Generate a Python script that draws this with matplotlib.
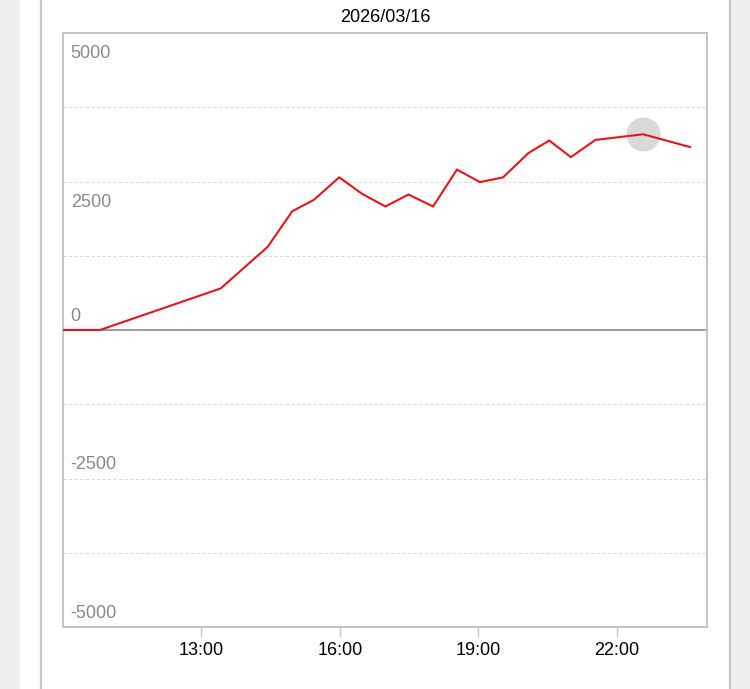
import matplotlib
matplotlib.use("Agg")
import matplotlib.pyplot as plt
from matplotlib.patches import Rectangle
from matplotlib.lines import Line2D

plt.rcParams['font.family'] = ['Liberation Sans', 'DejaVu Sans']

title = "2026/03/16"
times = ["10:00", "10:48", "13:25", "14:26", "14:58", "15:26", "15:59", "16:29",
         "16:59", "17:29", "18:01", "18:32", "19:02", "19:32", "20:05", "20:32",
         "21:00", "21:32", "22:34", "23:35"]
values = [0, 0, 700, 1400, 2000, 2190, 2570, 2290,
          2080, 2280, 2080, 2700, 2490, 2570, 2980, 3190,
          2910, 3200, 3295, 3080]
highlight_time = "22:34"
y_ticks = [5000, 2500, 0, -2500, -5000]
y_grid = [3750, 2500, 1250, -1250, -2500, -3750]
x_ticks = ["13:00", "16:00", "19:00", "22:00"]
x_start, x_end = "10:00", "23:57"


def h(t):
    hh, mm = t.split(":")
    return int(hh) + int(mm) / 60.0


xs = [h(t) for t in times]

W, H = 750, 689
fig = plt.figure(figsize=(W / 100, H / 100), dpi=100)
fig.patch.set_facecolor("white")

# page decorations
fig.add_artist(Rectangle((0, 0), 20 / W, 1, transform=fig.transFigure,
                         facecolor="#efefef", edgecolor="none", zorder=0))
fig.add_artist(Rectangle((731 / W, 0), 19 / W, 1, transform=fig.transFigure,
                         facecolor="#efefef", edgecolor="none", zorder=0))
fig.add_artist(Line2D([41 / W, 41 / W], [0, 1], transform=fig.transFigure,
                      color="#c8c8c8", lw=1.6))
fig.add_artist(Line2D([729.5 / W, 729.5 / W], [0, 1], transform=fig.transFigure,
                      color="#c8c8c8", lw=1.6))

left, right, top, bottom = 63, 707, 33, 627
ax = fig.add_axes([left / W, 1 - bottom / H, (right - left) / W, (bottom - top) / H])
ax.set_xlim(h(x_start), h(x_end))
ax.set_ylim(-5000, 5000)

for s in ax.spines.values():
    s.set_color("#c4c4c4")
    s.set_linewidth(1.4)

for g in y_grid:
    ax.axhline(g, color="#dcdcdc", lw=0.8, ls=(0, (3, 2)), zorder=1)
ax.axhline(0, color="#8a8a8a", lw=1.2, zorder=2)

ax.set_yticks([])
ax.set_xticks([h(t) for t in x_ticks])
ax.set_xticklabels(x_ticks, fontsize=13, color="black")
ax.tick_params(axis="x", length=7, width=1, color="#c4c4c4", pad=4)

for v in y_ticks:
    off = -15 if v > 0 else 10
    ax.annotate(f"{v}", xy=(0, v), xycoords=("axes fraction", "data"),
                xytext=(5.5, off), textcoords="offset points",
                ha="left", va="center", fontsize=13, color="#888888")

ax.plot(xs, values, color="#e8141a", lw=1.5, zorder=4, solid_joinstyle="miter")
hi = times.index(highlight_time)
ax.plot([xs[hi]], [values[hi]], marker="o", markersize=24.5, color="#d9d9d9",
        markeredgewidth=0, zorder=3)

fig.text((left + right) / 2 / W, 1 - 17 / H, title, ha="center", va="center",
         fontsize=13, color="black")

fig.savefig("out.png", dpi=100)
